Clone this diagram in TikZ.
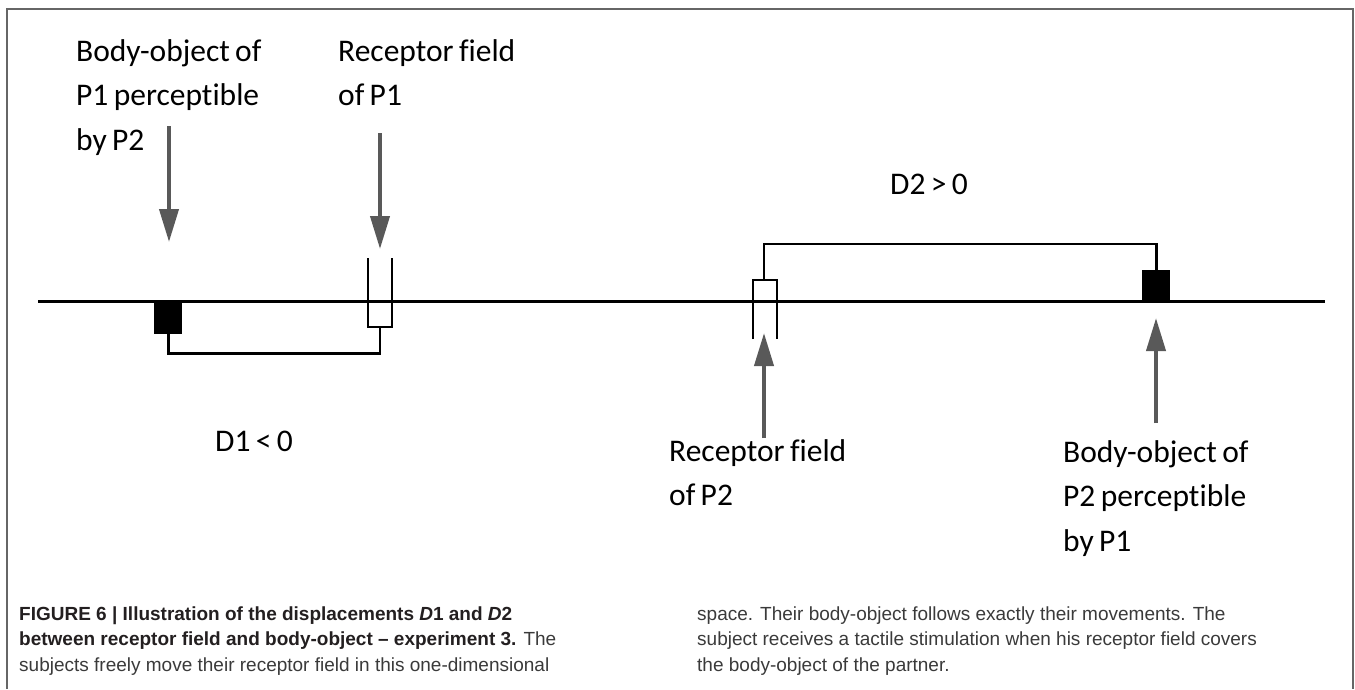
\documentclass[tikz,border=0pt]{standalone}
\usepackage{fontspec}
\setmainfont{Liberation Sans}
\newfontfamily\diagfont[Ligatures=CommonOff,WordSpace=0.75]{Carlito}
\usetikzlibrary{arrows.meta}
\definecolor{arrowgray}{HTML}{595959}
\definecolor{framegray}{HTML}{666666}
\definecolor{captext}{HTML}{3A3A3A}
\definecolor{capbold}{HTML}{231F20}
\begin{document}
\begin{tikzpicture}[x=1pt,y=-1pt,
  lbl/.style={inner sep=0pt, anchor=base west, font=\diagfont\fontsize{31.5}{44.5}\selectfont},
  captionbox/.style={inner sep=0pt, anchor=base west, font=\fontsize{19}{25.5}\selectfont, text=captext},
  pointer/.style={draw=arrowgray, line width=4pt, -{Triangle[length=33pt,width=19pt]}},
  wire/.style={draw=black, line width=2.7pt},
  bodyobj/.style={fill=black, draw=none, inner sep=0pt, anchor=north west}
]
\useasboundingbox (0,0) rectangle (1355,689);
\draw[framegray, line width=1.6pt] (7,689) -- (7,9) -- (1353,9) -- (1353,689);

% main axis
\coordinate (axisL) at (38,301);
\coordinate (axisR) at (1325,301);
\draw[wire, line width=3pt] (axisL) -- (axisR);

% P1: body-object and receptor field
\node[bodyobj, minimum width=28pt, minimum height=33pt] (bo1) at (154,301) {};
\coordinate (rf1a) at (368,258);
\coordinate (rf1b) at (392,258);
\coordinate (rf1bot) at (380,327);
\draw[wire] (rf1a) -- (368,327) -- (392,327) -- (rf1b);
\draw[wire] (bo1.south) -- ++(0,19) -| (rf1bot);

% P2: receptor field and body-object
\node[bodyobj, minimum width=28pt, minimum height=32pt] (bo2) at (1142,270) {};
\coordinate (rf2a) at (753,339);
\coordinate (rf2b) at (777,339);
\coordinate (rf2top) at (764,280);
\draw[wire] (rf2a) -- (753,280) -- (777,280) -- (rf2b);
\draw[wire] (rf2top) -- ++(0,-36) -| (bo2.north);

% labels
\node[lbl] (lblbo1) at (76,61) {\vtop{\hbox{Body-object of}\hbox{P1 perceptible}\hbox{by P2}}};
\node[lbl] (lblrf1) at (338,61) {\vtop{\hbox{Receptor field}\hbox{of P1}}};
\node[lbl] (lbld1) at (215,451) {D1 < 0};
\node[lbl] (lbld2) at (890,194) {D2 > 0};
\node[lbl] (lblrf2) at (669,461) {\vtop{\hbox{Receptor field}\hbox{of P2}}};
\node[lbl] (lblbo2) at (1063,462) {\vtop{\hbox{Body-object of}\hbox{P2 perceptible}\hbox{by P1}}};

% pointers
\coordinate (p1s) at (169,126); \coordinate (p1e) at (169,242);
\coordinate (p2s) at (380,133); \coordinate (p2e) at (380,249);
\coordinate (p3s) at (764,438); \coordinate (p3e) at (764,333);
\coordinate (p4s) at (1156,423); \coordinate (p4e) at (1156,318);
\draw[pointer] (p1s) -- (p1e);
\draw[pointer] (p2s) -- (p2e);
\draw[pointer] (p3s) -- (p3e);
\draw[pointer] (p4s) -- (p4e);

% caption
\node[captionbox] (capL) at (19,620) {\vtop{%
  \hbox{\color{capbold}\bfseries FIGURE 6 | Illustration of the displacements \textit{D}1 and \textit{D}2}%
  \hbox{{\color{capbold}\bfseries between receptor field and body-object – experiment 3.} The}%
  \hbox{subjects freely move their receptor field in this one-dimensional}}};
\node[captionbox] (capR) at (697,620) {\vtop{%
  \hbox{space. Their body-object follows exactly their movements. The}%
  \hbox{subject receives a tactile stimulation when his receptor field covers}%
  \hbox{the body-object of the partner.}}};
\end{tikzpicture}
\end{document}
